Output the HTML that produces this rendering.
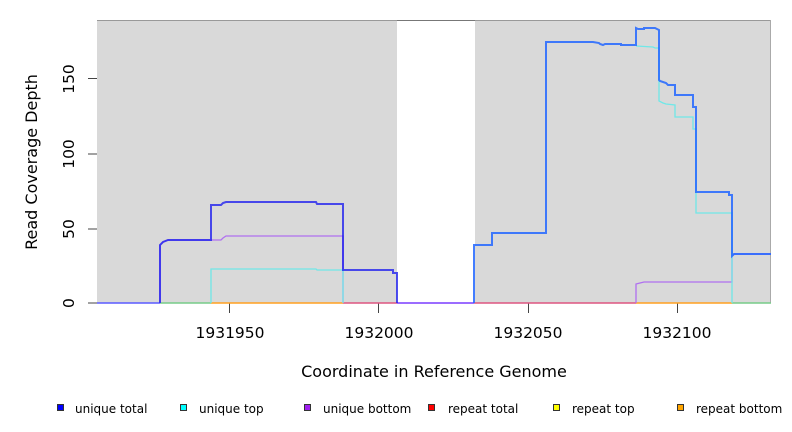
<!DOCTYPE html>
<html><head><meta charset="utf-8"><style>
body{margin:0;background:#fff}
svg{display:block;font-family:"DejaVu Sans","Liberation Sans",sans-serif}
</style></head><body>
<svg width="792" height="432" viewBox="0 0 792 432" xmlns="http://www.w3.org/2000/svg">
<rect x="97" y="20" width="300" height="283" fill="#d9d9d9"/>
<rect x="475" y="20" width="296" height="283" fill="#d9d9d9"/>
<line x1="97" y1="20.5" x2="771" y2="20.5" stroke="#999" stroke-width="1"/>
<line x1="397" y1="20.5" x2="475" y2="20.5" stroke="#777" stroke-width="1"/>
<line x1="770.5" y1="20" x2="770.5" y2="303" stroke="#aaa" stroke-width="1"/>
<g stroke="#444" stroke-width="1">
<line x1="88" y1="303" x2="97" y2="303"/><line x1="88" y1="229" x2="97" y2="229"/>
<line x1="88" y1="154" x2="97" y2="154"/><line x1="88" y1="78.5" x2="97" y2="78.5"/>
<line x1="229.5" y1="303" x2="229.5" y2="313"/><line x1="378.5" y1="303" x2="378.5" y2="313"/>
<line x1="528.5" y1="303" x2="528.5" y2="313"/><line x1="677.5" y1="303" x2="677.5" y2="313"/>
</g>
<g font-size="15.5" fill="#000" text-anchor="middle">
<text x="230" y="338">1931950</text><text x="379" y="338">1932000</text>
<text x="528" y="338">1932050</text><text x="677" y="338">1932100</text>
<text transform="translate(74,303) rotate(-90)">0</text>
<text transform="translate(74,229) rotate(-90)">50</text>
<text transform="translate(74,154) rotate(-90)">100</text>
<text transform="translate(74,79) rotate(-90)">150</text>
</g>
<text x="434" y="377" font-size="16" text-anchor="middle">Coordinate in Reference Genome</text>
<text transform="translate(37,162) rotate(-90)" font-size="16" text-anchor="middle">Read Coverage Depth</text>
<g stroke-width="1.5" fill="none">
<line x1="97" y1="303" x2="160" y2="303" stroke="#5a5aff"/>
<line x1="160" y1="303" x2="211" y2="303" stroke="#77cc88"/>
<line x1="211" y1="303" x2="343" y2="303" stroke="#ffa020"/>
<line x1="343" y1="303" x2="397" y2="303" stroke="#dd5580"/>
<line x1="397" y1="303" x2="474" y2="303" stroke="#7a3cff"/>
<line x1="474" y1="303" x2="636" y2="303" stroke="#dd5580"/>
<line x1="636" y1="303" x2="732" y2="303" stroke="#ffa020"/>
<line x1="732" y1="303" x2="771" y2="303" stroke="#77cc88"/>
</g>
<g fill="none" stroke-linejoin="miter" stroke-linecap="butt">
<polyline stroke="#b070f0" stroke-width="1.3" points="160,303 160,245 163,242 168,240 221,240 223,238 226,236 343,236 343,303"/>
<polyline stroke="#b070f0" stroke-width="1.3" points="636,303 636,284 644,282 732,282 732,256 734,254 771,254"/>
<polyline stroke="#70e8e8" stroke-width="1.3" points="211,303 211,269 316,269 317,270 343,270 343,303"/>
<polyline stroke="#70e8e8" stroke-width="1.3" points="636,46 653,47 655,48 659,48 659,101 663,103 666,104 675,105 675,117 693,117 693,129 696,129 696,213 732,213 732,303"/>
<polyline stroke="#2222ee" stroke-opacity="0.8" stroke-width="2" points="160,303 160,245 163,242 168,240 211,240 211,205 221,205 223,203 226,202 316,202 317,204 343,204 343,270 393,270 393,273 397,273 397,303"/>
<polyline stroke="#2266ff" stroke-opacity="0.85" stroke-width="2" points="474,303 474,245 492,245 492,233 546,233 546,42 593,42 599,43 600,44 603,45 605,44 621,44 621,45 636,45 636,28 638,29 644,29 644,28 655,28 657,29 659,30 659,80 660,81 666,83 668,85 675,85 675,95 693,95 693,107 696,107 696,192 729,192 729,195 732,195 732,256 734,254 771,254"/>
</g>
<g font-size="12" fill="#000">
<rect x="57.5" y="404.5" width="6" height="6" fill="#0000ff" stroke="#333"/><text x="75" y="413">unique total</text>
<rect x="180.5" y="404.5" width="6" height="6" fill="#00ffff" stroke="#333"/><text x="199" y="413">unique top</text>
<rect x="304.5" y="404.5" width="6" height="6" fill="#a020f0" stroke="#333"/><text x="323" y="413">unique bottom</text>
<rect x="428.5" y="404.5" width="6" height="6" fill="#ff0000" stroke="#333"/><text x="448" y="413">repeat total</text>
<rect x="553.5" y="404.5" width="6" height="6" fill="#ffff00" stroke="#333"/><text x="572" y="413">repeat top</text>
<rect x="677.5" y="404.5" width="6" height="6" fill="#ffa500" stroke="#333"/><text x="696" y="413">repeat bottom</text>
</g>
</svg>
</body></html>
